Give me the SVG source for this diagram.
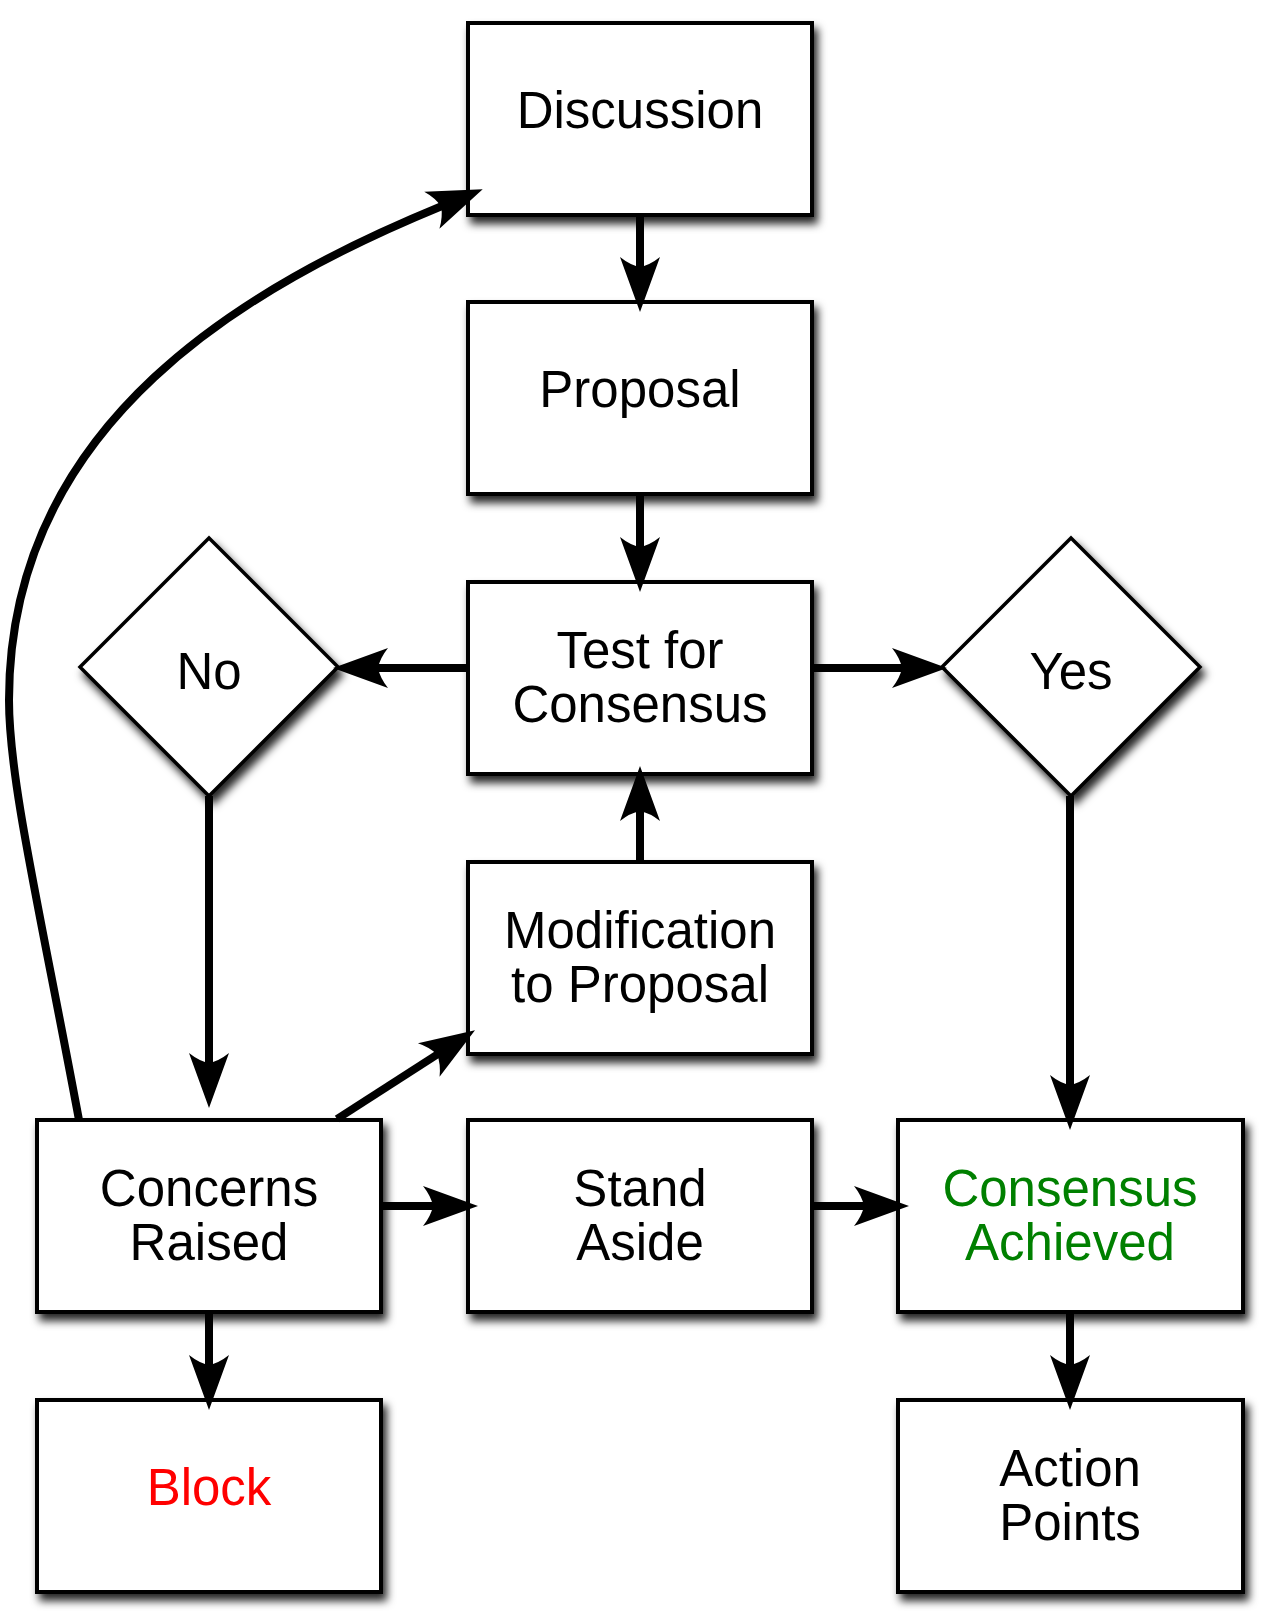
<svg xmlns="http://www.w3.org/2000/svg" width="1280" height="1616" viewBox="0 0 1280 1616">
  <defs>
    <filter id="shadow" x="-10%" y="-10%" width="125%" height="125%">
      <feDropShadow dx="4" dy="7" stdDeviation="4.5" flood-color="#000" flood-opacity="0.85"/>
    </filter>
    <marker id="arrow" markerUnits="userSpaceOnUse" viewBox="-60 -25 65 50" markerWidth="65" markerHeight="50" refX="-44" refY="0" orient="auto">
      <path d="M0,0 L-55,-20 Q-47,-10 -45,0 Q-47,10 -55,20 Z" fill="#000"/>
    </marker>
  </defs>
  <style>
    .box { fill: #fff; stroke: #000; stroke-width: 4; filter: url(#shadow); }
    .dia { fill: #fff; stroke: #000; stroke-width: 3.5; stroke-linejoin: miter; filter: url(#shadow); }
    .lbl { font-family: "Liberation Sans", Arial, sans-serif; font-size: 51px; text-anchor: middle; fill: #000; }
    .conn { fill: none; stroke: #000; stroke-width: 8; marker-end: url(#arrow); }
  </style>
  <rect width="1280" height="1616" fill="#fff"/>

  <g id="discussion">
    <rect class="box" x="468" y="23" width="344" height="192"/>
    <text class="lbl" x="640" y="128">Discussion</text>
  </g>
  <g id="proposal">
    <rect class="box" x="468" y="302" width="344" height="192"/>
    <text class="lbl" x="640" y="407">Proposal</text>
  </g>
  <g id="test">
    <rect class="box" x="468" y="582" width="344" height="192"/>
    <text class="lbl" x="640" y="668">Test for</text>
    <text class="lbl" x="640" y="722">Consensus</text>
  </g>
  <g id="no">
    <polygon class="dia" points="209,538 338,667 209,796 80,667"/>
    <text class="lbl" x="209" y="689">No</text>
  </g>
  <g id="yes">
    <polygon class="dia" points="1071,538 1200,667 1071,796 942,667"/>
    <text class="lbl" x="1071" y="689">Yes</text>
  </g>
  <g id="modification">
    <rect class="box" x="468" y="862" width="344" height="192"/>
    <text class="lbl" x="640" y="948">Modification</text>
    <text class="lbl" x="640" y="1002">to Proposal</text>
  </g>
  <g id="concerns">
    <rect class="box" x="37" y="1120" width="344" height="192"/>
    <text class="lbl" x="209" y="1206">Concerns</text>
    <text class="lbl" x="209" y="1260">Raised</text>
  </g>
  <g id="stand-aside">
    <rect class="box" x="468" y="1120" width="344" height="192"/>
    <text class="lbl" x="640" y="1206">Stand</text>
    <text class="lbl" x="640" y="1260">Aside</text>
  </g>
  <g id="consensus-achieved">
    <rect class="box" x="898" y="1120" width="345" height="192"/>
    <text class="lbl" x="1070" y="1206" style="fill:#008000">Consensus</text>
    <text class="lbl" x="1070" y="1260" style="fill:#008000">Achieved</text>
  </g>
  <g id="block">
    <rect class="box" x="37" y="1400" width="344" height="192"/>
    <text class="lbl" x="209" y="1505" style="fill:#ff0000">Block</text>
  </g>
  <g id="action-points">
    <rect class="box" x="898" y="1400" width="345" height="192"/>
    <text class="lbl" x="1070" y="1486">Action</text>
    <text class="lbl" x="1070" y="1540">Points</text>
  </g>

  <g id="connectors">
    <path class="conn" d="M640,215 L640,268"/>
    <path class="conn" d="M640,494 L640,548"/>
    <path class="conn" d="M640,862 L640,810"/>
    <path class="conn" d="M468,668 L377,668"/>
    <path class="conn" d="M812,668 L903,668"/>
    <path class="conn" d="M209,796 L209,1064"/>
    <path class="conn" d="M1070,796 L1070,1086"/>
    <path class="conn" d="M381,1206 L434,1206"/>
    <path class="conn" d="M812,1206 L865,1206"/>
    <path class="conn" d="M337,1119 L438,1054"/>
    <path class="conn" d="M1070,1313 L1070,1366"/>
    <path class="conn" d="M209,1313 L209,1366"/>
    <path class="conn" d="M79,1120 C39,906 9,780 9,700 C9,420 252,284 442,206"/>
  </g>
</svg>
